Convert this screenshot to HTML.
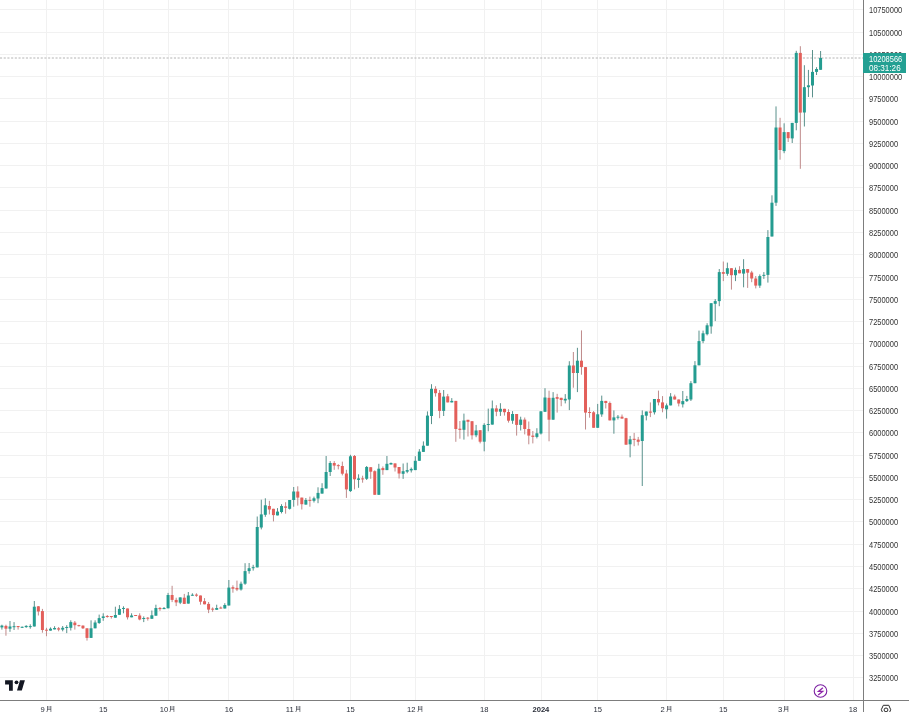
<!DOCTYPE html>
<html><head><meta charset="utf-8">
<style>
html,body{margin:0;padding:0;background:#fff;}
body{width:909px;height:712px;overflow:hidden;position:relative;font-family:"Liberation Sans",sans-serif;}
svg{position:absolute;left:0;top:0;}
.pl{position:absolute;left:868.6px;height:10px;line-height:10px;font-size:8.3px;color:#333;white-space:nowrap;transform:scaleX(0.9);transform-origin:0 50%;}
.txt{position:absolute;left:0;top:0;width:909px;height:712px;will-change:transform;}
.tl{position:absolute;top:705px;width:40px;text-align:center;font-size:7.6px;line-height:10px;color:#2a2e39;white-space:nowrap;}
.tl.b{font-weight:bold;}
.tag{position:absolute;left:862.6px;top:52.7px;width:43.2px;height:20.1px;background:#23a093;}
.tag div{position:absolute;left:6.2px;font-size:8.3px;line-height:10px;color:#fff;white-space:nowrap;transform:scaleX(0.9);transform-origin:0 50%;}
</style></head><body>
<svg width="909" height="712" viewBox="0 0 909 712">
<rect x="0" y="677" width="863" height="1" fill="#f1f1f1"/>
<rect x="0" y="655" width="863" height="1" fill="#f1f1f1"/>
<rect x="0" y="633" width="863" height="1" fill="#f1f1f1"/>
<rect x="0" y="611" width="863" height="1" fill="#f1f1f1"/>
<rect x="0" y="588" width="863" height="1" fill="#f1f1f1"/>
<rect x="0" y="566" width="863" height="1" fill="#f1f1f1"/>
<rect x="0" y="544" width="863" height="1" fill="#f1f1f1"/>
<rect x="0" y="521" width="863" height="1" fill="#f1f1f1"/>
<rect x="0" y="499" width="863" height="1" fill="#f1f1f1"/>
<rect x="0" y="477" width="863" height="1" fill="#f1f1f1"/>
<rect x="0" y="455" width="863" height="1" fill="#f1f1f1"/>
<rect x="0" y="432" width="863" height="1" fill="#f1f1f1"/>
<rect x="0" y="410" width="863" height="1" fill="#f1f1f1"/>
<rect x="0" y="388" width="863" height="1" fill="#f1f1f1"/>
<rect x="0" y="366" width="863" height="1" fill="#f1f1f1"/>
<rect x="0" y="343" width="863" height="1" fill="#f1f1f1"/>
<rect x="0" y="321" width="863" height="1" fill="#f1f1f1"/>
<rect x="0" y="299" width="863" height="1" fill="#f1f1f1"/>
<rect x="0" y="277" width="863" height="1" fill="#f1f1f1"/>
<rect x="0" y="254" width="863" height="1" fill="#f1f1f1"/>
<rect x="0" y="232" width="863" height="1" fill="#f1f1f1"/>
<rect x="0" y="210" width="863" height="1" fill="#f1f1f1"/>
<rect x="0" y="187" width="863" height="1" fill="#f1f1f1"/>
<rect x="0" y="165" width="863" height="1" fill="#f1f1f1"/>
<rect x="0" y="143" width="863" height="1" fill="#f1f1f1"/>
<rect x="0" y="121" width="863" height="1" fill="#f1f1f1"/>
<rect x="0" y="98" width="863" height="1" fill="#f1f1f1"/>
<rect x="0" y="76" width="863" height="1" fill="#f1f1f1"/>
<rect x="0" y="54" width="863" height="1" fill="#f1f1f1"/>
<rect x="0" y="32" width="863" height="1" fill="#f1f1f1"/>
<rect x="0" y="9" width="863" height="1" fill="#f1f1f1"/>
<rect x="46" y="0" width="1" height="700" fill="#f1f1f1"/>
<rect x="103" y="0" width="1" height="700" fill="#f1f1f1"/>
<rect x="168" y="0" width="1" height="700" fill="#f1f1f1"/>
<rect x="228" y="0" width="1" height="700" fill="#f1f1f1"/>
<rect x="293" y="0" width="1" height="700" fill="#f1f1f1"/>
<rect x="350" y="0" width="1" height="700" fill="#f1f1f1"/>
<rect x="415" y="0" width="1" height="700" fill="#f1f1f1"/>
<rect x="484" y="0" width="1" height="700" fill="#f1f1f1"/>
<rect x="541" y="0" width="1" height="700" fill="#f1f1f1"/>
<rect x="597" y="0" width="1" height="700" fill="#f1f1f1"/>
<rect x="666" y="0" width="1" height="700" fill="#f1f1f1"/>
<rect x="723" y="0" width="1" height="700" fill="#f1f1f1"/>
<rect x="784" y="0" width="1" height="700" fill="#f1f1f1"/>
<rect x="853" y="0" width="1" height="700" fill="#f1f1f1"/>
<line x1="0" y1="58.00" x2="863" y2="58.00" stroke="#b4b4b4" stroke-width="1" stroke-dasharray="2.1 1.6"/>
<rect x="1.39" y="624.70" width="1" height="4.90" fill="#5a918c" fill-opacity="1.0"/>
<rect x="0.39" y="625.60" width="3.0" height="1.80" fill="#249c90"/>
<rect x="5.44" y="624.70" width="1" height="11.00" fill="#bf8a8a" fill-opacity="1.0"/>
<rect x="4.44" y="625.90" width="3.0" height="2.80" fill="#e35f5a"/>
<rect x="9.49" y="621.00" width="1" height="10.80" fill="#5a918c" fill-opacity="1.0"/>
<rect x="8.49" y="626.50" width="3.0" height="2.20" fill="#249c90"/>
<rect x="13.55" y="622.10" width="1" height="7.90" fill="#5a918c" fill-opacity="1.0"/>
<rect x="12.55" y="626.20" width="3.0" height="1.00" fill="#249c90"/>
<rect x="17.60" y="626.00" width="1" height="3.60" fill="#bf8a8a" fill-opacity="1.0"/>
<rect x="16.60" y="626.00" width="3.0" height="1.10" fill="#e35f5a"/>
<rect x="21.65" y="626.50" width="1" height="1.50" fill="#5a918c" fill-opacity="1.0"/>
<rect x="20.65" y="626.80" width="3.0" height="1.00" fill="#249c90"/>
<rect x="25.70" y="625.20" width="1" height="2.60" fill="#5a918c" fill-opacity="1.0"/>
<rect x="24.70" y="625.90" width="3.0" height="1.20" fill="#249c90"/>
<rect x="29.76" y="624.30" width="1" height="4.40" fill="#5a918c" fill-opacity="1.0"/>
<rect x="28.76" y="626.10" width="3.0" height="1.00" fill="#249c90"/>
<rect x="33.81" y="601.00" width="1" height="25.50" fill="#5a918c" fill-opacity="1.0"/>
<rect x="32.81" y="606.70" width="3.0" height="19.80" fill="#249c90"/>
<rect x="37.86" y="606.00" width="1" height="9.50" fill="#bf8a8a" fill-opacity="1.0"/>
<rect x="36.86" y="606.30" width="3.0" height="5.20" fill="#e35f5a"/>
<rect x="41.92" y="608.90" width="1" height="23.80" fill="#bf8a8a" fill-opacity="1.0"/>
<rect x="40.92" y="611.10" width="3.0" height="18.90" fill="#e35f5a"/>
<rect x="45.97" y="627.80" width="1" height="8.40" fill="#bf8a8a" fill-opacity="1.0"/>
<rect x="44.97" y="629.70" width="3.0" height="1.00" fill="#e35f5a"/>
<rect x="50.02" y="627.40" width="1" height="3.20" fill="#5a918c" fill-opacity="1.0"/>
<rect x="49.02" y="628.70" width="3.0" height="1.90" fill="#249c90"/>
<rect x="54.08" y="626.20" width="1" height="3.20" fill="#5a918c" fill-opacity="1.0"/>
<rect x="53.08" y="628.00" width="3.0" height="1.40" fill="#249c90"/>
<rect x="58.13" y="627.00" width="1" height="4.30" fill="#bf8a8a" fill-opacity="1.0"/>
<rect x="57.13" y="628.30" width="3.0" height="1.30" fill="#e35f5a"/>
<rect x="62.18" y="626.00" width="1" height="5.30" fill="#5a918c" fill-opacity="1.0"/>
<rect x="61.18" y="627.80" width="3.0" height="1.80" fill="#249c90"/>
<rect x="66.23" y="625.20" width="1" height="7.90" fill="#5a918c" fill-opacity="1.0"/>
<rect x="65.23" y="627.00" width="3.0" height="1.00" fill="#249c90"/>
<rect x="70.29" y="620.30" width="1" height="10.20" fill="#5a918c" fill-opacity="1.0"/>
<rect x="69.29" y="622.10" width="3.0" height="5.70" fill="#249c90"/>
<rect x="74.34" y="621.00" width="1" height="8.60" fill="#bf8a8a" fill-opacity="1.0"/>
<rect x="73.34" y="622.60" width="3.0" height="2.60" fill="#e35f5a"/>
<rect x="78.39" y="624.80" width="1" height="1.70" fill="#bf8a8a" fill-opacity="1.0"/>
<rect x="77.39" y="625.15" width="3.0" height="1.00" fill="#e35f5a"/>
<rect x="82.45" y="625.40" width="1" height="3.60" fill="#bf8a8a" fill-opacity="1.0"/>
<rect x="81.45" y="625.60" width="3.0" height="2.70" fill="#e35f5a"/>
<rect x="86.50" y="628.30" width="1" height="12.30" fill="#bf8a8a" fill-opacity="1.0"/>
<rect x="85.50" y="628.30" width="3.0" height="9.60" fill="#e35f5a"/>
<rect x="90.55" y="620.30" width="1" height="17.60" fill="#5a918c" fill-opacity="1.0"/>
<rect x="89.55" y="628.30" width="3.0" height="9.60" fill="#249c90"/>
<rect x="94.61" y="620.30" width="1" height="8.00" fill="#5a918c" fill-opacity="1.0"/>
<rect x="93.61" y="622.50" width="3.0" height="5.80" fill="#249c90"/>
<rect x="98.66" y="614.60" width="1" height="9.30" fill="#5a918c" fill-opacity="1.0"/>
<rect x="97.66" y="618.10" width="3.0" height="4.90" fill="#249c90"/>
<rect x="102.71" y="613.30" width="1" height="7.50" fill="#5a918c" fill-opacity="1.0"/>
<rect x="101.71" y="616.40" width="3.0" height="1.60" fill="#249c90"/>
<rect x="106.77" y="615.00" width="1" height="2.70" fill="#bf8a8a" fill-opacity="1.0"/>
<rect x="105.77" y="616.00" width="3.0" height="1.00" fill="#e35f5a"/>
<rect x="110.82" y="616.00" width="1" height="2.60" fill="#bf8a8a" fill-opacity="1.0"/>
<rect x="109.82" y="616.00" width="3.0" height="1.00" fill="#e35f5a"/>
<rect x="114.87" y="606.70" width="1" height="11.00" fill="#5a918c" fill-opacity="1.0"/>
<rect x="113.87" y="615.00" width="3.0" height="2.70" fill="#249c90"/>
<rect x="118.92" y="605.10" width="1" height="9.70" fill="#5a918c" fill-opacity="1.0"/>
<rect x="117.92" y="608.90" width="3.0" height="5.90" fill="#249c90"/>
<rect x="122.98" y="606.30" width="1" height="7.00" fill="#5a918c" fill-opacity="1.0"/>
<rect x="121.98" y="607.95" width="3.0" height="1.00" fill="#249c90"/>
<rect x="127.03" y="608.50" width="1" height="11.00" fill="#bf8a8a" fill-opacity="1.0"/>
<rect x="126.03" y="608.50" width="3.0" height="8.80" fill="#e35f5a"/>
<rect x="131.08" y="613.30" width="1" height="4.00" fill="#5a918c" fill-opacity="1.0"/>
<rect x="130.08" y="615.50" width="3.0" height="1.80" fill="#249c90"/>
<rect x="135.14" y="615.00" width="1" height="1.00" fill="#bf8a8a" fill-opacity="1.0"/>
<rect x="134.14" y="615.00" width="3.0" height="1.00" fill="#e35f5a"/>
<rect x="139.19" y="613.30" width="1" height="7.00" fill="#bf8a8a" fill-opacity="1.0"/>
<rect x="138.19" y="615.50" width="3.0" height="4.00" fill="#e35f5a"/>
<rect x="143.24" y="616.40" width="1" height="5.70" fill="#5a918c" fill-opacity="1.0"/>
<rect x="142.24" y="618.00" width="3.0" height="1.00" fill="#249c90"/>
<rect x="147.30" y="617.00" width="1" height="3.60" fill="#bf8a8a" fill-opacity="1.0"/>
<rect x="146.30" y="617.70" width="3.0" height="1.00" fill="#e35f5a"/>
<rect x="151.35" y="610.50" width="1" height="8.30" fill="#5a918c" fill-opacity="1.0"/>
<rect x="150.35" y="615.30" width="3.0" height="3.50" fill="#249c90"/>
<rect x="155.40" y="604.70" width="1" height="11.00" fill="#5a918c" fill-opacity="1.0"/>
<rect x="154.40" y="608.00" width="3.0" height="7.70" fill="#249c90"/>
<rect x="159.45" y="607.00" width="1" height="3.90" fill="#bf8a8a" fill-opacity="1.0"/>
<rect x="158.45" y="608.00" width="3.0" height="1.10" fill="#e35f5a"/>
<rect x="163.51" y="607.00" width="1" height="2.10" fill="#5a918c" fill-opacity="1.0"/>
<rect x="162.51" y="608.00" width="3.0" height="1.10" fill="#249c90"/>
<rect x="167.56" y="592.90" width="1" height="15.40" fill="#5a918c" fill-opacity="1.0"/>
<rect x="166.56" y="595.00" width="3.0" height="13.30" fill="#249c90"/>
<rect x="171.61" y="585.80" width="1" height="16.30" fill="#bf8a8a" fill-opacity="1.0"/>
<rect x="170.61" y="595.00" width="3.0" height="4.90" fill="#e35f5a"/>
<rect x="175.67" y="597.70" width="1" height="8.40" fill="#bf8a8a" fill-opacity="1.0"/>
<rect x="174.67" y="599.90" width="3.0" height="2.50" fill="#e35f5a"/>
<rect x="179.72" y="597.40" width="1" height="6.70" fill="#5a918c" fill-opacity="1.0"/>
<rect x="178.72" y="597.40" width="3.0" height="5.30" fill="#249c90"/>
<rect x="183.77" y="593.90" width="1" height="10.00" fill="#bf8a8a" fill-opacity="1.0"/>
<rect x="182.77" y="597.70" width="3.0" height="6.20" fill="#e35f5a"/>
<rect x="187.82" y="592.00" width="1" height="11.60" fill="#5a918c" fill-opacity="1.0"/>
<rect x="186.82" y="595.50" width="3.0" height="8.10" fill="#249c90"/>
<rect x="191.88" y="593.30" width="1" height="2.40" fill="#5a918c" fill-opacity="1.0"/>
<rect x="190.88" y="594.75" width="3.0" height="1.00" fill="#249c90"/>
<rect x="195.93" y="593.30" width="1" height="3.50" fill="#bf8a8a" fill-opacity="1.0"/>
<rect x="194.93" y="594.60" width="3.0" height="1.10" fill="#e35f5a"/>
<rect x="199.98" y="595.50" width="1" height="9.20" fill="#bf8a8a" fill-opacity="1.0"/>
<rect x="198.98" y="595.50" width="3.0" height="6.20" fill="#e35f5a"/>
<rect x="204.04" y="598.10" width="1" height="6.20" fill="#bf8a8a" fill-opacity="1.0"/>
<rect x="203.04" y="601.20" width="3.0" height="3.10" fill="#e35f5a"/>
<rect x="208.09" y="602.00" width="1" height="11.10" fill="#bf8a8a" fill-opacity="1.0"/>
<rect x="207.09" y="603.90" width="3.0" height="5.70" fill="#e35f5a"/>
<rect x="212.14" y="607.40" width="1" height="4.40" fill="#bf8a8a" fill-opacity="1.0"/>
<rect x="211.14" y="608.65" width="3.0" height="1.00" fill="#e35f5a"/>
<rect x="216.20" y="604.70" width="1" height="5.10" fill="#5a918c" fill-opacity="1.0"/>
<rect x="215.20" y="608.00" width="3.0" height="1.80" fill="#249c90"/>
<rect x="220.25" y="606.50" width="1" height="2.00" fill="#bf8a8a" fill-opacity="1.0"/>
<rect x="219.25" y="607.55" width="3.0" height="1.00" fill="#e35f5a"/>
<rect x="224.30" y="603.20" width="1" height="5.30" fill="#5a918c" fill-opacity="1.0"/>
<rect x="223.30" y="605.00" width="3.0" height="3.50" fill="#249c90"/>
<rect x="228.35" y="580.00" width="1" height="25.50" fill="#5a918c" fill-opacity="1.0"/>
<rect x="227.35" y="587.60" width="3.0" height="17.90" fill="#249c90"/>
<rect x="232.41" y="585.30" width="1" height="7.40" fill="#bf8a8a" fill-opacity="1.0"/>
<rect x="231.41" y="587.20" width="3.0" height="1.50" fill="#e35f5a"/>
<rect x="236.46" y="580.60" width="1" height="10.50" fill="#bf8a8a" fill-opacity="1.0"/>
<rect x="235.46" y="587.90" width="3.0" height="1.60" fill="#e35f5a"/>
<rect x="240.51" y="581.60" width="1" height="9.00" fill="#5a918c" fill-opacity="1.0"/>
<rect x="239.51" y="583.70" width="3.0" height="5.80" fill="#249c90"/>
<rect x="244.57" y="563.20" width="1" height="21.60" fill="#5a918c" fill-opacity="1.0"/>
<rect x="243.57" y="571.10" width="3.0" height="12.60" fill="#249c90"/>
<rect x="248.62" y="563.00" width="1" height="10.70" fill="#5a918c" fill-opacity="1.0"/>
<rect x="247.62" y="568.20" width="3.0" height="2.90" fill="#249c90"/>
<rect x="252.67" y="564.80" width="1" height="5.80" fill="#5a918c" fill-opacity="1.0"/>
<rect x="251.67" y="567.20" width="3.0" height="1.00" fill="#249c90"/>
<rect x="256.73" y="516.50" width="1" height="50.90" fill="#5a918c" fill-opacity="1.0"/>
<rect x="255.73" y="527.00" width="3.0" height="40.40" fill="#249c90"/>
<rect x="260.78" y="499.70" width="1" height="29.70" fill="#5a918c" fill-opacity="1.0"/>
<rect x="259.78" y="514.40" width="3.0" height="13.10" fill="#249c90"/>
<rect x="264.83" y="498.30" width="1" height="18.50" fill="#5a918c" fill-opacity="1.0"/>
<rect x="263.83" y="505.30" width="3.0" height="9.50" fill="#249c90"/>
<rect x="268.88" y="500.80" width="1" height="13.60" fill="#bf8a8a" fill-opacity="1.0"/>
<rect x="267.88" y="506.00" width="3.0" height="3.50" fill="#e35f5a"/>
<rect x="272.94" y="508.80" width="1" height="12.60" fill="#bf8a8a" fill-opacity="1.0"/>
<rect x="271.94" y="508.80" width="3.0" height="6.30" fill="#e35f5a"/>
<rect x="276.99" y="508.10" width="1" height="7.30" fill="#5a918c" fill-opacity="1.0"/>
<rect x="275.99" y="511.60" width="3.0" height="3.80" fill="#249c90"/>
<rect x="281.04" y="504.20" width="1" height="9.20" fill="#5a918c" fill-opacity="1.0"/>
<rect x="280.04" y="506.00" width="3.0" height="6.00" fill="#249c90"/>
<rect x="285.10" y="502.20" width="1" height="11.50" fill="#bf8a8a" fill-opacity="1.0"/>
<rect x="284.10" y="506.40" width="3.0" height="1.40" fill="#e35f5a"/>
<rect x="289.15" y="500.00" width="1" height="9.50" fill="#5a918c" fill-opacity="1.0"/>
<rect x="288.15" y="500.00" width="3.0" height="8.80" fill="#249c90"/>
<rect x="293.20" y="487.00" width="1" height="19.70" fill="#5a918c" fill-opacity="1.0"/>
<rect x="292.20" y="491.50" width="3.0" height="8.50" fill="#249c90"/>
<rect x="297.26" y="486.30" width="1" height="19.30" fill="#bf8a8a" fill-opacity="1.0"/>
<rect x="296.26" y="491.50" width="3.0" height="6.10" fill="#e35f5a"/>
<rect x="301.31" y="497.60" width="1" height="11.90" fill="#bf8a8a" fill-opacity="1.0"/>
<rect x="300.31" y="497.60" width="3.0" height="6.60" fill="#e35f5a"/>
<rect x="305.36" y="498.00" width="1" height="6.60" fill="#5a918c" fill-opacity="1.0"/>
<rect x="304.36" y="500.00" width="3.0" height="4.60" fill="#249c90"/>
<rect x="309.41" y="496.60" width="1" height="10.10" fill="#bf8a8a" fill-opacity="1.0"/>
<rect x="308.41" y="499.90" width="3.0" height="1.00" fill="#e35f5a"/>
<rect x="313.47" y="496.60" width="1" height="5.90" fill="#5a918c" fill-opacity="1.0"/>
<rect x="312.47" y="498.30" width="3.0" height="2.50" fill="#249c90"/>
<rect x="317.52" y="487.30" width="1" height="15.90" fill="#5a918c" fill-opacity="1.0"/>
<rect x="316.52" y="492.90" width="3.0" height="5.60" fill="#249c90"/>
<rect x="321.57" y="483.20" width="1" height="10.40" fill="#5a918c" fill-opacity="1.0"/>
<rect x="320.57" y="488.10" width="3.0" height="5.50" fill="#249c90"/>
<rect x="325.63" y="456.00" width="1" height="32.50" fill="#5a918c" fill-opacity="1.0"/>
<rect x="324.63" y="472.00" width="3.0" height="16.50" fill="#249c90"/>
<rect x="329.68" y="461.10" width="1" height="14.90" fill="#5a918c" fill-opacity="1.0"/>
<rect x="328.68" y="463.00" width="3.0" height="9.00" fill="#249c90"/>
<rect x="333.73" y="461.10" width="1" height="8.70" fill="#bf8a8a" fill-opacity="1.0"/>
<rect x="332.73" y="463.00" width="3.0" height="2.60" fill="#e35f5a"/>
<rect x="337.79" y="464.20" width="1" height="5.20" fill="#bf8a8a" fill-opacity="1.0"/>
<rect x="336.79" y="465.15" width="3.0" height="1.00" fill="#e35f5a"/>
<rect x="341.84" y="461.60" width="1" height="13.80" fill="#bf8a8a" fill-opacity="1.0"/>
<rect x="340.84" y="466.00" width="3.0" height="7.70" fill="#e35f5a"/>
<rect x="345.89" y="469.80" width="1" height="28.10" fill="#bf8a8a" fill-opacity="1.0"/>
<rect x="344.89" y="473.50" width="3.0" height="15.90" fill="#e35f5a"/>
<rect x="349.95" y="454.80" width="1" height="37.10" fill="#5a918c" fill-opacity="1.0"/>
<rect x="348.95" y="456.30" width="3.0" height="34.80" fill="#249c90"/>
<rect x="354.00" y="455.00" width="1" height="34.40" fill="#bf8a8a" fill-opacity="1.0"/>
<rect x="353.00" y="456.00" width="3.0" height="23.30" fill="#e35f5a"/>
<rect x="358.05" y="474.30" width="1" height="13.50" fill="#5a918c" fill-opacity="1.0"/>
<rect x="357.05" y="478.40" width="3.0" height="1.50" fill="#249c90"/>
<rect x="362.10" y="475.70" width="1" height="7.00" fill="#bf8a8a" fill-opacity="1.0"/>
<rect x="361.10" y="478.40" width="3.0" height="1.00" fill="#e35f5a"/>
<rect x="366.16" y="466.00" width="1" height="14.00" fill="#5a918c" fill-opacity="1.0"/>
<rect x="365.16" y="467.00" width="3.0" height="11.80" fill="#249c90"/>
<rect x="370.21" y="467.20" width="1" height="11.60" fill="#bf8a8a" fill-opacity="1.0"/>
<rect x="369.21" y="467.20" width="3.0" height="4.50" fill="#e35f5a"/>
<rect x="374.26" y="470.30" width="1" height="24.50" fill="#bf8a8a" fill-opacity="1.0"/>
<rect x="373.26" y="471.20" width="3.0" height="23.60" fill="#e35f5a"/>
<rect x="378.32" y="463.80" width="1" height="31.00" fill="#5a918c" fill-opacity="1.0"/>
<rect x="377.32" y="468.70" width="3.0" height="26.10" fill="#249c90"/>
<rect x="382.37" y="466.40" width="1" height="8.40" fill="#bf8a8a" fill-opacity="1.0"/>
<rect x="381.37" y="468.10" width="3.0" height="2.00" fill="#e35f5a"/>
<rect x="386.42" y="456.00" width="1" height="14.10" fill="#5a918c" fill-opacity="1.0"/>
<rect x="385.42" y="463.80" width="3.0" height="6.30" fill="#249c90"/>
<rect x="390.48" y="462.50" width="1" height="2.00" fill="#5a918c" fill-opacity="1.0"/>
<rect x="389.48" y="463.00" width="3.0" height="1.50" fill="#249c90"/>
<rect x="394.53" y="463.40" width="1" height="8.10" fill="#bf8a8a" fill-opacity="1.0"/>
<rect x="393.53" y="463.40" width="3.0" height="4.10" fill="#e35f5a"/>
<rect x="398.58" y="467.00" width="1" height="11.50" fill="#bf8a8a" fill-opacity="1.0"/>
<rect x="397.58" y="467.00" width="3.0" height="6.50" fill="#e35f5a"/>
<rect x="402.63" y="463.50" width="1" height="15.40" fill="#5a918c" fill-opacity="1.0"/>
<rect x="401.63" y="471.20" width="3.0" height="2.60" fill="#249c90"/>
<rect x="406.69" y="462.70" width="1" height="10.50" fill="#5a918c" fill-opacity="1.0"/>
<rect x="405.69" y="470.10" width="3.0" height="1.60" fill="#249c90"/>
<rect x="410.74" y="467.50" width="1" height="5.00" fill="#5a918c" fill-opacity="1.0"/>
<rect x="409.74" y="468.90" width="3.0" height="1.50" fill="#249c90"/>
<rect x="414.79" y="456.20" width="1" height="13.90" fill="#5a918c" fill-opacity="1.0"/>
<rect x="413.79" y="460.80" width="3.0" height="9.30" fill="#249c90"/>
<rect x="418.85" y="449.10" width="1" height="11.70" fill="#5a918c" fill-opacity="1.0"/>
<rect x="417.85" y="451.60" width="3.0" height="9.20" fill="#249c90"/>
<rect x="422.90" y="441.40" width="1" height="10.50" fill="#5a918c" fill-opacity="1.0"/>
<rect x="421.90" y="445.70" width="3.0" height="6.20" fill="#249c90"/>
<rect x="426.95" y="411.40" width="1" height="34.30" fill="#5a918c" fill-opacity="1.0"/>
<rect x="425.95" y="415.60" width="3.0" height="30.10" fill="#249c90"/>
<rect x="431.00" y="384.20" width="1" height="39.90" fill="#5a918c" fill-opacity="1.0"/>
<rect x="430.00" y="388.80" width="3.0" height="27.20" fill="#249c90"/>
<rect x="435.06" y="386.20" width="1" height="10.40" fill="#bf8a8a" fill-opacity="1.0"/>
<rect x="434.06" y="388.80" width="3.0" height="4.40" fill="#e35f5a"/>
<rect x="439.11" y="390.00" width="1" height="28.20" fill="#bf8a8a" fill-opacity="1.0"/>
<rect x="438.11" y="392.90" width="3.0" height="18.00" fill="#e35f5a"/>
<rect x="443.16" y="390.00" width="1" height="26.00" fill="#5a918c" fill-opacity="1.0"/>
<rect x="442.16" y="396.60" width="3.0" height="14.30" fill="#249c90"/>
<rect x="447.22" y="393.90" width="1" height="8.50" fill="#bf8a8a" fill-opacity="1.0"/>
<rect x="446.22" y="396.30" width="3.0" height="6.10" fill="#e35f5a"/>
<rect x="451.27" y="398.10" width="1" height="4.30" fill="#5a918c" fill-opacity="1.0"/>
<rect x="450.27" y="400.90" width="3.0" height="1.50" fill="#249c90"/>
<rect x="455.32" y="400.90" width="1" height="40.90" fill="#bf8a8a" fill-opacity="1.0"/>
<rect x="454.32" y="400.90" width="3.0" height="28.10" fill="#e35f5a"/>
<rect x="459.38" y="421.00" width="1" height="17.70" fill="#bf8a8a" fill-opacity="1.0"/>
<rect x="458.38" y="428.70" width="3.0" height="1.20" fill="#e35f5a"/>
<rect x="463.43" y="413.60" width="1" height="26.00" fill="#5a918c" fill-opacity="1.0"/>
<rect x="462.43" y="420.50" width="3.0" height="9.30" fill="#249c90"/>
<rect x="467.48" y="419.80" width="1" height="16.70" fill="#bf8a8a" fill-opacity="1.0"/>
<rect x="466.48" y="419.80" width="3.0" height="2.00" fill="#e35f5a"/>
<rect x="471.53" y="421.20" width="1" height="18.30" fill="#bf8a8a" fill-opacity="1.0"/>
<rect x="470.53" y="421.20" width="3.0" height="14.10" fill="#e35f5a"/>
<rect x="475.59" y="424.90" width="1" height="12.30" fill="#5a918c" fill-opacity="1.0"/>
<rect x="474.59" y="430.50" width="3.0" height="4.80" fill="#249c90"/>
<rect x="479.64" y="430.20" width="1" height="13.20" fill="#bf8a8a" fill-opacity="1.0"/>
<rect x="478.64" y="430.20" width="3.0" height="11.50" fill="#e35f5a"/>
<rect x="483.69" y="423.20" width="1" height="28.10" fill="#5a918c" fill-opacity="1.0"/>
<rect x="482.69" y="424.90" width="3.0" height="16.80" fill="#249c90"/>
<rect x="487.75" y="408.60" width="1" height="22.70" fill="#5a918c" fill-opacity="1.0"/>
<rect x="486.75" y="424.00" width="3.0" height="1.00" fill="#249c90"/>
<rect x="491.80" y="400.50" width="1" height="24.10" fill="#5a918c" fill-opacity="1.0"/>
<rect x="490.80" y="408.40" width="3.0" height="16.20" fill="#249c90"/>
<rect x="495.85" y="405.20" width="1" height="11.00" fill="#bf8a8a" fill-opacity="1.0"/>
<rect x="494.85" y="408.40" width="3.0" height="3.30" fill="#e35f5a"/>
<rect x="499.91" y="403.20" width="1" height="12.70" fill="#5a918c" fill-opacity="1.0"/>
<rect x="498.91" y="408.80" width="3.0" height="2.90" fill="#249c90"/>
<rect x="503.96" y="408.80" width="1" height="6.80" fill="#bf8a8a" fill-opacity="1.0"/>
<rect x="502.96" y="408.80" width="3.0" height="3.40" fill="#e35f5a"/>
<rect x="508.01" y="409.20" width="1" height="13.40" fill="#bf8a8a" fill-opacity="1.0"/>
<rect x="507.01" y="412.00" width="3.0" height="8.70" fill="#e35f5a"/>
<rect x="512.06" y="411.10" width="1" height="12.70" fill="#5a918c" fill-opacity="1.0"/>
<rect x="511.06" y="414.00" width="3.0" height="6.70" fill="#249c90"/>
<rect x="516.12" y="414.00" width="1" height="21.60" fill="#bf8a8a" fill-opacity="1.0"/>
<rect x="515.12" y="414.00" width="3.0" height="10.90" fill="#e35f5a"/>
<rect x="520.17" y="416.70" width="1" height="13.80" fill="#5a918c" fill-opacity="1.0"/>
<rect x="519.17" y="419.60" width="3.0" height="5.30" fill="#249c90"/>
<rect x="524.22" y="417.50" width="1" height="16.90" fill="#bf8a8a" fill-opacity="1.0"/>
<rect x="523.22" y="419.60" width="3.0" height="9.40" fill="#e35f5a"/>
<rect x="528.28" y="421.50" width="1" height="22.80" fill="#bf8a8a" fill-opacity="1.0"/>
<rect x="527.28" y="429.00" width="3.0" height="6.60" fill="#e35f5a"/>
<rect x="532.33" y="431.00" width="1" height="12.40" fill="#bf8a8a" fill-opacity="1.0"/>
<rect x="531.33" y="435.60" width="3.0" height="1.30" fill="#e35f5a"/>
<rect x="536.38" y="428.20" width="1" height="10.20" fill="#5a918c" fill-opacity="1.0"/>
<rect x="535.38" y="433.30" width="3.0" height="3.60" fill="#249c90"/>
<rect x="540.44" y="411.30" width="1" height="23.20" fill="#5a918c" fill-opacity="1.0"/>
<rect x="539.44" y="411.30" width="3.0" height="22.20" fill="#249c90"/>
<rect x="544.49" y="388.20" width="1" height="23.60" fill="#5a918c" fill-opacity="1.0"/>
<rect x="543.49" y="397.50" width="3.0" height="14.30" fill="#249c90"/>
<rect x="548.54" y="390.70" width="1" height="50.60" fill="#bf8a8a" fill-opacity="1.0"/>
<rect x="547.54" y="397.80" width="3.0" height="21.90" fill="#e35f5a"/>
<rect x="552.60" y="392.10" width="1" height="27.60" fill="#5a918c" fill-opacity="1.0"/>
<rect x="551.60" y="397.80" width="3.0" height="21.90" fill="#249c90"/>
<rect x="556.65" y="393.80" width="1" height="18.80" fill="#bf8a8a" fill-opacity="1.0"/>
<rect x="555.65" y="397.10" width="3.0" height="1.70" fill="#e35f5a"/>
<rect x="560.70" y="397.80" width="1" height="8.40" fill="#bf8a8a" fill-opacity="1.0"/>
<rect x="559.70" y="397.80" width="3.0" height="2.20" fill="#e35f5a"/>
<rect x="564.75" y="394.10" width="1" height="9.30" fill="#5a918c" fill-opacity="1.0"/>
<rect x="563.75" y="398.80" width="3.0" height="1.70" fill="#249c90"/>
<rect x="568.81" y="361.20" width="1" height="48.90" fill="#5a918c" fill-opacity="1.0"/>
<rect x="567.81" y="365.50" width="3.0" height="34.00" fill="#249c90"/>
<rect x="572.86" y="352.00" width="1" height="35.70" fill="#bf8a8a" fill-opacity="1.0"/>
<rect x="571.86" y="365.50" width="3.0" height="7.50" fill="#e35f5a"/>
<rect x="576.91" y="347.80" width="1" height="44.30" fill="#5a918c" fill-opacity="1.0"/>
<rect x="575.91" y="360.70" width="3.0" height="12.30" fill="#249c90"/>
<rect x="580.97" y="330.40" width="1" height="44.30" fill="#bf8a8a" fill-opacity="1.0"/>
<rect x="579.97" y="360.70" width="3.0" height="6.40" fill="#e35f5a"/>
<rect x="585.02" y="367.10" width="1" height="62.40" fill="#bf8a8a" fill-opacity="1.0"/>
<rect x="584.02" y="367.10" width="3.0" height="45.50" fill="#e35f5a"/>
<rect x="589.07" y="407.30" width="1" height="10.40" fill="#bf8a8a" fill-opacity="1.0"/>
<rect x="588.07" y="412.00" width="3.0" height="1.00" fill="#e35f5a"/>
<rect x="593.12" y="411.00" width="1" height="16.80" fill="#bf8a8a" fill-opacity="1.0"/>
<rect x="592.12" y="412.30" width="3.0" height="15.50" fill="#e35f5a"/>
<rect x="597.18" y="403.90" width="1" height="23.90" fill="#5a918c" fill-opacity="1.0"/>
<rect x="596.18" y="414.30" width="3.0" height="13.50" fill="#249c90"/>
<rect x="601.23" y="395.60" width="1" height="21.20" fill="#5a918c" fill-opacity="1.0"/>
<rect x="600.23" y="400.90" width="3.0" height="13.50" fill="#249c90"/>
<rect x="605.28" y="400.90" width="1" height="7.60" fill="#bf8a8a" fill-opacity="1.0"/>
<rect x="604.28" y="400.90" width="3.0" height="2.10" fill="#e35f5a"/>
<rect x="609.34" y="401.50" width="1" height="18.90" fill="#bf8a8a" fill-opacity="1.0"/>
<rect x="608.34" y="403.00" width="3.0" height="17.40" fill="#e35f5a"/>
<rect x="613.39" y="410.40" width="1" height="23.30" fill="#5a918c" fill-opacity="1.0"/>
<rect x="612.39" y="417.40" width="3.0" height="3.00" fill="#249c90"/>
<rect x="617.44" y="415.00" width="1" height="4.50" fill="#5a918c" fill-opacity="1.0"/>
<rect x="616.44" y="416.70" width="3.0" height="1.00" fill="#249c90"/>
<rect x="621.50" y="414.50" width="1" height="4.10" fill="#bf8a8a" fill-opacity="1.0"/>
<rect x="620.50" y="416.70" width="3.0" height="1.90" fill="#e35f5a"/>
<rect x="625.55" y="417.80" width="1" height="26.90" fill="#bf8a8a" fill-opacity="1.0"/>
<rect x="624.55" y="418.20" width="3.0" height="26.50" fill="#e35f5a"/>
<rect x="629.60" y="435.90" width="1" height="21.40" fill="#5a918c" fill-opacity="1.0"/>
<rect x="628.60" y="439.30" width="3.0" height="5.00" fill="#249c90"/>
<rect x="633.65" y="432.90" width="1" height="13.30" fill="#bf8a8a" fill-opacity="1.0"/>
<rect x="632.65" y="438.80" width="3.0" height="1.10" fill="#e35f5a"/>
<rect x="637.71" y="436.90" width="1" height="8.60" fill="#bf8a8a" fill-opacity="1.0"/>
<rect x="636.71" y="439.60" width="3.0" height="2.20" fill="#e35f5a"/>
<rect x="641.76" y="410.40" width="1" height="75.60" fill="#5a918c" fill-opacity="1.0"/>
<rect x="640.76" y="415.20" width="3.0" height="25.80" fill="#249c90"/>
<rect x="645.81" y="411.50" width="1" height="8.90" fill="#5a918c" fill-opacity="1.0"/>
<rect x="644.81" y="411.50" width="3.0" height="4.20" fill="#249c90"/>
<rect x="649.87" y="402.40" width="1" height="14.70" fill="#bf8a8a" fill-opacity="1.0"/>
<rect x="648.87" y="411.50" width="3.0" height="1.20" fill="#e35f5a"/>
<rect x="653.92" y="399.00" width="1" height="15.50" fill="#5a918c" fill-opacity="1.0"/>
<rect x="652.92" y="399.00" width="3.0" height="13.30" fill="#249c90"/>
<rect x="657.97" y="390.60" width="1" height="14.80" fill="#bf8a8a" fill-opacity="1.0"/>
<rect x="656.97" y="399.00" width="3.0" height="3.40" fill="#e35f5a"/>
<rect x="662.03" y="396.10" width="1" height="16.20" fill="#bf8a8a" fill-opacity="1.0"/>
<rect x="661.03" y="402.40" width="3.0" height="5.90" fill="#e35f5a"/>
<rect x="666.08" y="403.50" width="1" height="15.10" fill="#5a918c" fill-opacity="1.0"/>
<rect x="665.08" y="405.40" width="3.0" height="3.90" fill="#249c90"/>
<rect x="670.13" y="393.10" width="1" height="12.30" fill="#5a918c" fill-opacity="1.0"/>
<rect x="669.13" y="396.50" width="3.0" height="8.90" fill="#249c90"/>
<rect x="674.19" y="394.60" width="1" height="4.90" fill="#bf8a8a" fill-opacity="1.0"/>
<rect x="673.19" y="396.50" width="3.0" height="3.00" fill="#e35f5a"/>
<rect x="678.24" y="399.50" width="1" height="6.90" fill="#bf8a8a" fill-opacity="1.0"/>
<rect x="677.24" y="399.50" width="3.0" height="4.00" fill="#e35f5a"/>
<rect x="682.29" y="391.00" width="1" height="16.50" fill="#5a918c" fill-opacity="1.0"/>
<rect x="681.29" y="401.10" width="3.0" height="3.20" fill="#249c90"/>
<rect x="686.34" y="395.90" width="1" height="6.10" fill="#5a918c" fill-opacity="1.0"/>
<rect x="685.34" y="399.00" width="3.0" height="2.10" fill="#249c90"/>
<rect x="690.40" y="381.10" width="1" height="19.90" fill="#5a918c" fill-opacity="1.0"/>
<rect x="689.40" y="383.20" width="3.0" height="16.30" fill="#249c90"/>
<rect x="694.45" y="361.10" width="1" height="22.10" fill="#5a918c" fill-opacity="1.0"/>
<rect x="693.45" y="365.30" width="3.0" height="17.90" fill="#249c90"/>
<rect x="698.50" y="330.60" width="1" height="34.70" fill="#5a918c" fill-opacity="1.0"/>
<rect x="697.50" y="341.10" width="3.0" height="24.20" fill="#249c90"/>
<rect x="702.56" y="330.60" width="1" height="12.60" fill="#5a918c" fill-opacity="1.0"/>
<rect x="701.56" y="333.30" width="3.0" height="7.80" fill="#249c90"/>
<rect x="706.61" y="323.20" width="1" height="12.20" fill="#5a918c" fill-opacity="1.0"/>
<rect x="705.61" y="325.30" width="3.0" height="8.90" fill="#249c90"/>
<rect x="710.66" y="303.20" width="1" height="30.50" fill="#5a918c" fill-opacity="1.0"/>
<rect x="709.66" y="303.20" width="3.0" height="23.20" fill="#249c90"/>
<rect x="714.72" y="299.10" width="1" height="22.00" fill="#5a918c" fill-opacity="1.0"/>
<rect x="713.72" y="301.10" width="3.0" height="2.70" fill="#249c90"/>
<rect x="718.77" y="269.00" width="1" height="37.20" fill="#5a918c" fill-opacity="1.0"/>
<rect x="717.77" y="272.10" width="3.0" height="29.00" fill="#249c90"/>
<rect x="722.82" y="261.50" width="1" height="19.60" fill="#bf8a8a" fill-opacity="1.0"/>
<rect x="721.82" y="272.10" width="3.0" height="1.70" fill="#e35f5a"/>
<rect x="726.87" y="262.60" width="1" height="13.20" fill="#5a918c" fill-opacity="1.0"/>
<rect x="725.87" y="268.20" width="3.0" height="5.60" fill="#249c90"/>
<rect x="730.93" y="268.20" width="1" height="21.40" fill="#bf8a8a" fill-opacity="1.0"/>
<rect x="729.93" y="268.20" width="3.0" height="7.00" fill="#e35f5a"/>
<rect x="734.98" y="267.60" width="1" height="13.50" fill="#5a918c" fill-opacity="1.0"/>
<rect x="733.98" y="269.90" width="3.0" height="5.30" fill="#249c90"/>
<rect x="739.03" y="266.20" width="1" height="7.10" fill="#bf8a8a" fill-opacity="1.0"/>
<rect x="738.03" y="269.90" width="3.0" height="3.40" fill="#e35f5a"/>
<rect x="743.09" y="259.20" width="1" height="28.10" fill="#5a918c" fill-opacity="1.0"/>
<rect x="742.09" y="269.10" width="3.0" height="4.50" fill="#249c90"/>
<rect x="747.14" y="269.10" width="1" height="18.80" fill="#bf8a8a" fill-opacity="1.0"/>
<rect x="746.14" y="269.10" width="3.0" height="3.60" fill="#e35f5a"/>
<rect x="751.19" y="270.80" width="1" height="11.40" fill="#bf8a8a" fill-opacity="1.0"/>
<rect x="750.19" y="272.50" width="3.0" height="6.00" fill="#e35f5a"/>
<rect x="755.25" y="276.00" width="1" height="12.40" fill="#bf8a8a" fill-opacity="1.0"/>
<rect x="754.25" y="278.50" width="3.0" height="7.10" fill="#e35f5a"/>
<rect x="759.30" y="274.40" width="1" height="13.50" fill="#5a918c" fill-opacity="1.0"/>
<rect x="758.30" y="276.10" width="3.0" height="9.50" fill="#249c90"/>
<rect x="763.35" y="272.10" width="1" height="6.80" fill="#5a918c" fill-opacity="1.0"/>
<rect x="762.35" y="274.85" width="3.0" height="1.00" fill="#249c90"/>
<rect x="767.40" y="230.10" width="1" height="52.50" fill="#5a918c" fill-opacity="1.0"/>
<rect x="766.40" y="237.00" width="3.0" height="37.90" fill="#249c90"/>
<rect x="771.46" y="195.30" width="1" height="41.20" fill="#5a918c" fill-opacity="1.0"/>
<rect x="770.46" y="202.70" width="3.0" height="33.80" fill="#249c90"/>
<rect x="775.51" y="106.40" width="1" height="99.50" fill="#5a918c" fill-opacity="1.0"/>
<rect x="774.51" y="127.50" width="3.0" height="75.20" fill="#249c90"/>
<rect x="779.56" y="117.80" width="1" height="41.90" fill="#bf8a8a" fill-opacity="1.0"/>
<rect x="778.56" y="127.50" width="3.0" height="22.50" fill="#e35f5a"/>
<rect x="783.62" y="123.30" width="1" height="29.90" fill="#5a918c" fill-opacity="1.0"/>
<rect x="782.62" y="132.10" width="3.0" height="19.00" fill="#249c90"/>
<rect x="787.67" y="132.10" width="1" height="9.90" fill="#bf8a8a" fill-opacity="1.0"/>
<rect x="786.67" y="132.10" width="3.0" height="6.10" fill="#e35f5a"/>
<rect x="791.72" y="122.90" width="1" height="20.10" fill="#5a918c" fill-opacity="1.0"/>
<rect x="790.72" y="122.90" width="3.0" height="15.50" fill="#249c90"/>
<rect x="795.77" y="50.80" width="1" height="79.50" fill="#5a918c" fill-opacity="1.0"/>
<rect x="794.77" y="52.90" width="3.0" height="70.00" fill="#249c90"/>
<rect x="799.83" y="46.20" width="1" height="122.60" fill="#bf8a8a" fill-opacity="1.0"/>
<rect x="798.83" y="52.90" width="3.0" height="59.70" fill="#e35f5a"/>
<rect x="803.88" y="65.20" width="1" height="61.30" fill="#5a918c" fill-opacity="1.0"/>
<rect x="802.88" y="87.20" width="3.0" height="25.30" fill="#249c90"/>
<rect x="807.93" y="69.90" width="1" height="27.10" fill="#5a918c" fill-opacity="1.0"/>
<rect x="806.93" y="85.30" width="3.0" height="1.90" fill="#249c90"/>
<rect x="811.99" y="50.00" width="1" height="47.40" fill="#5a918c" fill-opacity="1.0"/>
<rect x="810.99" y="71.90" width="3.0" height="13.60" fill="#249c90"/>
<rect x="816.04" y="67.20" width="1" height="7.80" fill="#5a918c" fill-opacity="1.0"/>
<rect x="815.04" y="69.00" width="3.0" height="2.90" fill="#249c90"/>
<rect x="820.09" y="51.00" width="1" height="18.80" fill="#5a918c" fill-opacity="1.0"/>
<rect x="819.09" y="58.00" width="3.0" height="11.80" fill="#249c90"/>
<rect x="863" y="0" width="1" height="712" fill="#7d7d7d"/>
<rect x="0" y="700" width="909" height="1" fill="#7d7d7d"/>
</svg>
<div class="txt"><div class="pl" style="top:673.1px">3250000</div><div class="pl" style="top:651.1px">3500000</div><div class="pl" style="top:629.1px">3750000</div><div class="pl" style="top:607.1px">4000000</div><div class="pl" style="top:584.1px">4250000</div><div class="pl" style="top:562.1px">4500000</div><div class="pl" style="top:540.1px">4750000</div><div class="pl" style="top:517.1px">5000000</div><div class="pl" style="top:495.1px">5250000</div><div class="pl" style="top:473.1px">5500000</div><div class="pl" style="top:451.1px">5750000</div><div class="pl" style="top:428.1px">6000000</div><div class="pl" style="top:406.1px">6250000</div><div class="pl" style="top:384.1px">6500000</div><div class="pl" style="top:362.1px">6750000</div><div class="pl" style="top:339.1px">7000000</div><div class="pl" style="top:317.1px">7250000</div><div class="pl" style="top:295.1px">7500000</div><div class="pl" style="top:273.1px">7750000</div><div class="pl" style="top:250.1px">8000000</div><div class="pl" style="top:228.1px">8250000</div><div class="pl" style="top:206.1px">8500000</div><div class="pl" style="top:183.1px">8750000</div><div class="pl" style="top:161.1px">9000000</div><div class="pl" style="top:139.1px">9250000</div><div class="pl" style="top:117.1px">9500000</div><div class="pl" style="top:94.1px">9750000</div><div class="pl" style="top:72.1px">10000000</div><div class="pl" style="top:50.1px">10250000</div><div class="pl" style="top:28.1px">10500000</div><div class="pl" style="top:5.1px">10750000</div>
<div class="tag"><div style="top:1.0px">10208566</div><div style="top:10.4px;transform:scaleX(0.98)">08:31:26</div></div>
<div class="tl" style="left:26.5px">9月</div><div class="tl" style="left:83.2px">15</div><div class="tl" style="left:148.1px">10月</div><div class="tl" style="left:208.9px">16</div><div class="tl" style="left:273.7px">11月</div><div class="tl" style="left:330.4px">15</div><div class="tl" style="left:395.3px">12月</div><div class="tl" style="left:464.2px">18</div><div class="tl b" style="left:520.9px">2024</div><div class="tl" style="left:577.7px">15</div><div class="tl" style="left:646.6px">2月</div><div class="tl" style="left:703.3px">15</div><div class="tl" style="left:764.1px">3月</div><div class="tl" style="left:833.0px">18</div></div>
<svg style="position:absolute;left:0;top:0" width="909" height="712">
<g fill="#131722">
<path d="M5.1 680.2 H12.8 V690.7 H9 V684.5 H5.1 Z"/>
<circle cx="16.5" cy="682.3" r="1.9"/>
<path d="M20 680.2 H24.9 L21.8 690.5 H17 Z"/>
</g>
<circle cx="820.5" cy="691" r="6.3" fill="none" stroke="#7b1fa2" stroke-width="1.1"/>
<path d="M822.9 687.8 L818.5 691.4 L822.7 691.4 L818.2 694.9" fill="none" stroke="#8e24aa" stroke-width="1.25" stroke-linejoin="miter"/>
<g fill="none" stroke="#2a2a2a" stroke-width="1">
<path d="M883.3 705.3 L888.8 705.3 L890.7 709.7 L888.8 714.1 L883.3 714.1 L881.3 709.7 Z"/>
<circle cx="886" cy="709.9" r="1.9"/>
</g>
</svg>
</body></html>
